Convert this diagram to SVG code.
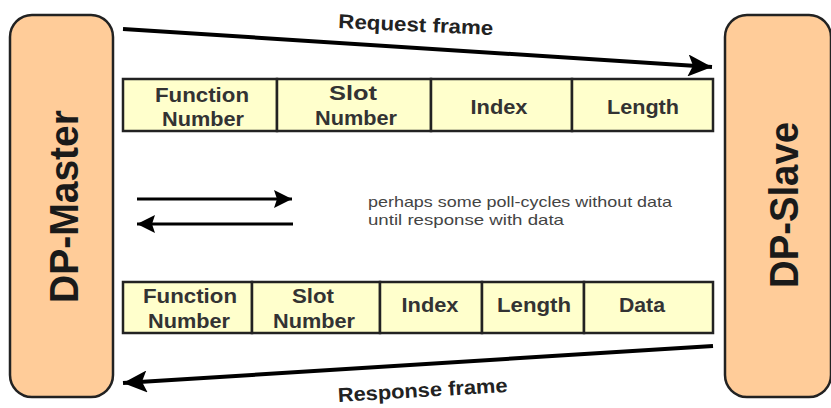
<svg xmlns="http://www.w3.org/2000/svg" width="831" height="408" viewBox="0 0 831 408">
<style>
.node{fill:#FFCC99;stroke:#222;stroke-width:2.5}
.cell{fill:#FFFFCC;stroke:#222;stroke-width:2.5}
.big{font-family:"Liberation Sans",Arial,sans-serif;font-weight:bold;font-size:40px;fill:#1a1a1a;text-anchor:middle}
.ct{font-family:"Liberation Sans",Arial,sans-serif;font-weight:bold;font-size:20px;fill:#333;text-anchor:middle}
.lbl{font-family:"Liberation Sans",Arial,sans-serif;font-weight:bold;font-size:20px;fill:#222;text-anchor:middle}
.note{font-family:"Liberation Sans",Arial,sans-serif;font-size:15px;fill:#444}
.conn{stroke:#000;fill:none}
</style>
<defs>
<marker id="ah" markerUnits="userSpaceOnUse" markerWidth="26" markerHeight="22" refX="24" refY="11" orient="auto">
<path d="M0,0 L24,11 L0,22 L5,11 Z" fill="#000"/>
</marker>
<marker id="ahs" markerUnits="userSpaceOnUse" markerWidth="20" markerHeight="18" refX="18" refY="9" orient="auto">
<path d="M0,0 L18,9 L0,18 L3,9 Z" fill="#000"/>
</marker>
</defs>

<g id="dp-master">
<rect class="node" x="10" y="15" width="103" height="382" rx="22" ry="22"/>
<text class="big" transform="translate(78,206.5) rotate(-90)" x="0" y="0" textLength="193" lengthAdjust="spacingAndGlyphs">DP-Master</text>
</g>

<g id="dp-slave">
<rect class="node" x="725" y="15" width="106" height="382" rx="22" ry="22"/>
<text class="big" transform="translate(798,205) rotate(-90)" x="0" y="0" textLength="166" lengthAdjust="spacingAndGlyphs">DP-Slave</text>
</g>

<g id="request-table">
<rect class="cell" x="123" y="79" width="154" height="52"/>
<rect class="cell" x="277" y="79" width="154" height="52"/>
<rect class="cell" x="431" y="79" width="141" height="52"/>
<rect class="cell" x="572" y="79" width="141" height="52"/>
<text class="ct" x="202" y="102" textLength="94" lengthAdjust="spacingAndGlyphs">Function</text>
<text class="ct" x="203" y="126" textLength="82" lengthAdjust="spacingAndGlyphs">Number</text>
<text class="ct" x="353" y="100" textLength="48" lengthAdjust="spacingAndGlyphs">Slot</text>
<text class="ct" x="356" y="125" textLength="82" lengthAdjust="spacingAndGlyphs">Number</text>
<text class="ct" x="499" y="114" textLength="57" lengthAdjust="spacingAndGlyphs">Index</text>
<text class="ct" x="643" y="114" textLength="72" lengthAdjust="spacingAndGlyphs">Length</text>
</g>

<g id="response-table">
<rect class="cell" x="123" y="282" width="129" height="51"/>
<rect class="cell" x="252" y="282" width="128" height="51"/>
<rect class="cell" x="380" y="282" width="102" height="51"/>
<rect class="cell" x="482" y="282" width="102" height="51"/>
<rect class="cell" x="584" y="282" width="129" height="51"/>
<text class="ct" x="190" y="303" textLength="94" lengthAdjust="spacingAndGlyphs">Function</text>
<text class="ct" x="189" y="328" textLength="82" lengthAdjust="spacingAndGlyphs">Number</text>
<text class="ct" x="313" y="303" textLength="42" lengthAdjust="spacingAndGlyphs">Slot</text>
<text class="ct" x="314" y="328" textLength="82" lengthAdjust="spacingAndGlyphs">Number</text>
<text class="ct" x="430" y="312" textLength="57" lengthAdjust="spacingAndGlyphs">Index</text>
<text class="ct" x="534" y="312" textLength="74" lengthAdjust="spacingAndGlyphs">Length</text>
<text class="ct" x="642" y="312" textLength="46" lengthAdjust="spacingAndGlyphs">Data</text>
</g>

<g id="note">
<text class="note" x="368" y="207" textLength="304" lengthAdjust="spacingAndGlyphs">perhaps some poll-cycles without data</text>
<text class="note" x="368" y="225" textLength="196" lengthAdjust="spacingAndGlyphs">until response with data</text>
</g>

<g id="connectors">
<line class="conn" x1="123" y1="29" x2="712" y2="67" stroke-width="4" marker-end="url(#ah)"/>
<line class="conn" x1="713" y1="346" x2="123" y2="383" stroke-width="4" marker-end="url(#ah)"/>
<line class="conn" x1="137" y1="199" x2="292" y2="199" stroke-width="3" marker-end="url(#ahs)"/>
<line class="conn" x1="293" y1="224" x2="137" y2="224" stroke-width="3" marker-end="url(#ahs)"/>
<text class="lbl" transform="translate(415.5,31.5) rotate(2.6)" x="0" y="0" textLength="155" lengthAdjust="spacingAndGlyphs">Request frame</text>
<text class="lbl" transform="translate(423,397) rotate(-3.4)" x="0" y="0" textLength="170" lengthAdjust="spacingAndGlyphs">Response frame</text>
</g>
</svg>
